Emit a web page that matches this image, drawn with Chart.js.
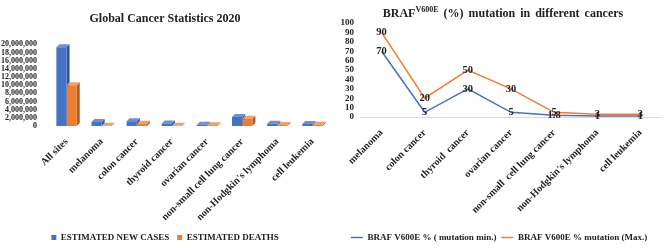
<!DOCTYPE html>
<html>
<head>
<meta charset="utf-8">
<script src="https://cdn.jsdelivr.net/npm/chart.js@4.4.0/dist/chart.umd.min.js"></script>
<style>
  body { margin: 0; background: #fff; width: 670px; height: 248px; overflow: hidden; position: relative; font-family: "Liberation Serif", serif; }
  #left { position: absolute; left: 0; top: 0; }
  #right { position: absolute; left: 336px; top: 0; }
  #rtitle { position: absolute; left: 336px; top: 5px; width: 334px; text-align: center; font-weight: bold; font-size: 12px; word-spacing: 2px; color: #222; }
  #rtitle sup { font-size: 8px; }
</style>
</head>
<body>
<canvas id="left" width="336" height="248"></canvas>
<canvas id="right" width="334" height="248"></canvas>
<div id="rtitle">BRAF<sup>V600E</sup> (%) mutation in different cancers</div>
<script>
// données graphique de gauche
const cancerSites = ["All sites", "melanoma", "colon cancer", "thyroid cancer", "ovarian cancer", "non-small cell lung cancer", "non-Hodgkin's lymphoma", "cell leukemia"];
const newCases = [19300000, 950000, 1150000, 590000, 310000, 2200000, 545000, 475000];
const deaths = [10000000, 57000, 580000, 44000, 207000, 1800000, 260000, 312000];
const casesTicks = [0, 2000000, 4000000, 6000000, 8000000, 10000000, 12000000, 14000000, 16000000, 18000000, 20000000];

// données graphique de droite
const brafCancers = ["melanoma", "colon cancer", "thyroid  cancer", "ovarian cancer", "non-small  cell lung cancer", "non-Hodgkin's lymphoma", "cell leukemia"];
const brafMin = [70, 5, 30, 5, 1.8, 1, 1];
const brafMax = [90, 20, 50, 30, 5, 3, 3];

const serif = "'Liberation Serif', 'Times New Roman', serif";
const blue = "#4472C4";
const orange = "#ED7D31";

// faces 3D des barres (côté et dessus)
const sideColors = ["#2F5597", "#B25E22"];
const topColors = ["#6A90D6", "#F3A066"];
const bar3d = {
  id: 'bar3d',
  beforeDatasetsDraw(chart) {
    const ctx = chart.ctx;
    const d = 3;
    chart.data.datasets.forEach((ds, i) => {
      chart.getDatasetMeta(i).data.forEach(bar => {
        const l = bar.x - bar.width / 2, r = bar.x + bar.width / 2;
        const t = bar.y, b = bar.base;
        ctx.save();
        ctx.fillStyle = sideColors[i];
        ctx.beginPath();
        ctx.moveTo(r, t); ctx.lineTo(r + d, t - d); ctx.lineTo(r + d, b - d); ctx.lineTo(r, b);
        ctx.closePath(); ctx.fill();
        ctx.fillStyle = topColors[i];
        ctx.beginPath();
        ctx.moveTo(l, t); ctx.lineTo(l + d, t - d); ctx.lineTo(r + d, t - d); ctx.lineTo(r, t);
        ctx.closePath(); ctx.fill();
        ctx.restore();
      });
    });
  }
};

new Chart(document.getElementById('left'), {
  type: 'bar',
  data: {
    labels: cancerSites,
    datasets: [
      { label: 'ESTIMATED NEW CASES', data: newCases, backgroundColor: blue },
      { label: 'ESTIMATED DEATHS', data: deaths, backgroundColor: orange }
    ]
  },
  options: {
    responsive: false,
    animation: false,
    categoryPercentage: 0.58,
    barPercentage: 1,
    layout: { padding: { left: 0, right: 6, top: 0, bottom: -4 } },
    plugins: {
      title: { display: true, text: 'Global Cancer Statistics 2020', color: '#222', font: { family: serif, size: 12, weight: 'bold' }, padding: { top: 12, bottom: 18 } },
      legend: {
        position: 'bottom',
        labels: { color: '#222', boxWidth: 5, boxHeight: 5, padding: 8, font: { family: serif, size: 9, weight: 'bold' } }
      },
      tooltip: { enabled: false }
    },
    scales: {
      x: {
        grid: { display: false },
        border: { display: false },
        afterFit: axis => { axis.height = 99; },
        ticks: { color: '#222', minRotation: 45, maxRotation: 45, padding: 2, font: { family: serif, size: 10, weight: 'bold' } }
      },
      y: {
        min: 0, max: 20000000,
        afterBuildTicks: axis => { axis.ticks = casesTicks.map(v => ({ value: v })); },
        afterFit: axis => { axis.width = 49; },
        grid: { display: false },
        border: { display: false },
        ticks: { autoSkip: false, color: '#222', padding: 4, font: { family: serif, size: 8, weight: 'bold' }, callback: v => v.toLocaleString('en-US') }
      }
    }
  },
  plugins: [bar3d]
});

// étiquettes de valeurs sur les points
const pointLabels = {
  id: 'pointLabels',
  afterDatasetsDraw(chart) {
    const ctx = chart.ctx;
    ctx.save();
    ctx.font = "bold 10.5px " + serif;
    ctx.fillStyle = '#222';
    ctx.textAlign = 'center';
    ctx.textBaseline = 'middle';
    chart.data.datasets.forEach((ds, i) => {
      chart.getDatasetMeta(i).data.forEach((pt, j) => {
        ctx.fillText(String(ds.data[j]), pt.x, pt.y);
      });
    });
    ctx.restore();
  }
};

new Chart(document.getElementById('right'), {
  type: 'line',
  data: {
    labels: brafCancers,
    datasets: [
      { label: 'BRAF V600E % ( mutation min.)', data: brafMin, borderColor: blue, backgroundColor: blue, borderWidth: 1.5, pointRadius: 0, pointStyle: 'line' },
      { label: 'BRAF V600E % mutation (Max.)', data: brafMax, borderColor: orange, backgroundColor: orange, borderWidth: 1.5, pointRadius: 0, pointStyle: 'line' }
    ]
  },
  options: {
    responsive: false,
    animation: false,
    layout: { padding: { left: 0, right: 8, top: 23, bottom: -4 } },
    plugins: {
      legend: {
        position: 'bottom',
        labels: { color: '#222', usePointStyle: true, pointStyleWidth: 12, padding: 5, font: { family: serif, size: 9, weight: 'bold' } }
      },
      tooltip: { enabled: false }
    },
    scales: {
      x: {
        offset: true,
        grid: { display: false },
        border: { display: false },
        afterFit: axis => { axis.height = 111; },
        ticks: { color: '#222', minRotation: 45, maxRotation: 45, padding: 2, font: { family: serif, size: 10, weight: 'bold' } }
      },
      y: {
        min: 0, max: 100,
        ticks: { stepSize: 10, autoSkip: false, color: '#222', padding: 6, font: { family: serif, size: 9, weight: 'bold' } },
        afterFit: axis => { axis.width = 24; },
        grid: { color: ctx => ctx.tick && ctx.tick.value === 0 ? '#d9d9d9' : 'rgba(0,0,0,0)', drawTicks: false },
        border: { display: false }
      }
    }
  },
  plugins: [pointLabels]
});
</script>
</body>
</html>
